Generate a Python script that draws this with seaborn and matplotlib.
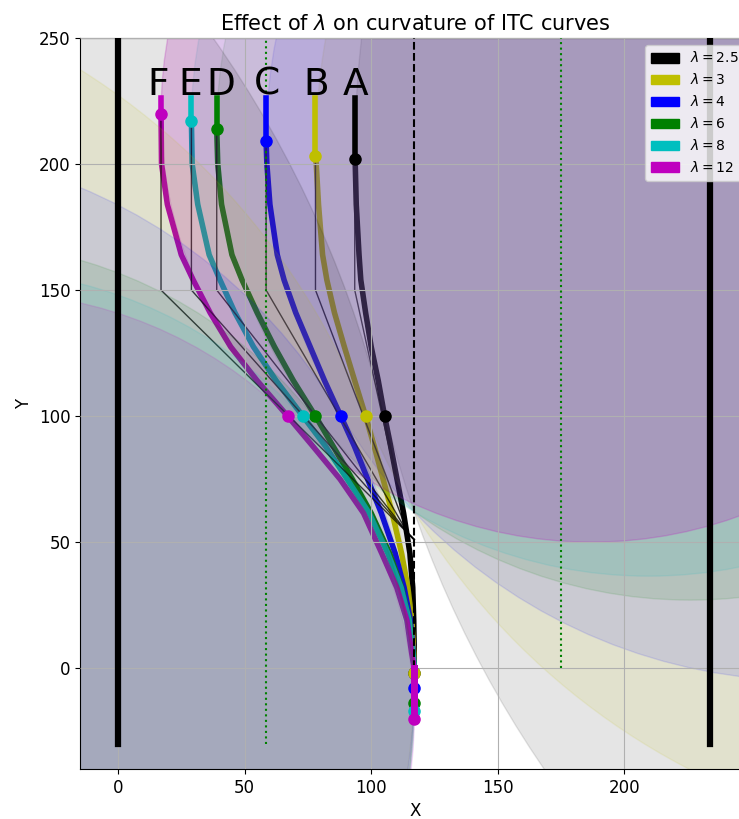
import numpy as np
import pandas as pd
import seaborn as sns
import matplotlib.pyplot as plt
from matplotlib.patches import Circle, Patch

# lambda values, colours and curve names
lambdas = [2.5, 3, 4, 6, 8, 12]
colors = ['k', 'y', 'b', 'g', 'c', 'm']
names = ['A', 'B', 'C', 'D', 'E', 'F']

# top start point of each ITC curve
top_x = [93.5, 78, 58.5, 39, 29, 17]
top_y = [202, 203, 209, 214, 217, 220]
# marker on each curve at y = 100
mid_x = [105.3, 97.8, 88, 78, 73, 67]
mid_y = 100
# end markers at x = 117
x_end = 117
bot_y = [-2, -2, -8, -14, -17, -20]

# curve points (x at the y levels in curve_y)
curve_y = [200, 184, 164, 154, 141, 127.5, 114, 100, 88, 75, 61.5, 45.5, 32, 19, 6, 0]
curve_A = [93.7, 94.1, 95.2, 95.9, 97.8, 100.0, 102.8, 105.3, 107.7, 110.2, 112.8, 115.3, 116.4, 116.8, 117, 117]
curve_B = [78.3, 79.2, 80.8, 82.5, 85.5, 89.4, 93.5, 97.8, 101.2, 104.7, 108.3, 112.0, 114.5, 116.0, 116.8, 117]
curve_C = [58.8, 60.0, 62.9, 65.6, 70.2, 75.9, 81.6, 88.0, 93.4, 98.6, 104.0, 109.5, 113.0, 115.5, 116.6, 117]
curve_D = [39.4, 40.9, 45.0, 49.0, 55.0, 61.8, 69.3, 78.0, 85.0, 92.5, 100.0, 107.3, 112.0, 115.0, 116.5, 117]
curve_E = [29.3, 31.5, 36.0, 40.3, 46.2, 53.5, 62.5, 73.0, 82.0, 90.5, 99.2, 106.6, 111.8, 115.0, 116.4, 117]
curve_F = [17.2, 19.5, 25.0, 29.7, 36.4, 44.5, 55.0, 67.0, 77.0, 87.7, 97.0, 104.2, 110.1, 114.1, 116.0, 117]
curves = [curve_A, curve_B, curve_C, curve_D, curve_E, curve_F]

# radii of the shaded circles (upper: touches top point, lower: touches end marker)
upper_r = [429, 274, 214, 187, 180.5, 170]
lower_r = [439.5, 283.3, 215.6, 183.2, 174.9, 169]
upper_alpha = [0.1, 0.1, 0.1, 0.1, 0.1, 0.2]
lower_alpha = [0.1, 0.1, 0.1, 0.1, 0.1, 0.12]

# knee of the thin guide lines
knee_y = 150
meet_pt = (114.5, 53.5)
meet_end = (117, 51)

rows = []
for i, lam in enumerate(lambdas):
    rows.append((top_x[i], top_y[i], names[i]))
    for xv, yv in zip(curves[i], curve_y):
        rows.append((xv, yv, names[i]))
df = pd.DataFrame(rows, columns=['x', 'y', 'curve'])

fig = plt.figure(figsize=(7.39, 8.19), dpi=100)
ax = fig.add_axes([80 / 739, 50 / 819, 671 / 739, 731 / 819])

sns.lineplot(data=df, x='x', y='y', hue='curve', hue_order=names,
             palette=colors, sort=False, estimator=None, linewidth=4,
             legend=False, ax=ax, zorder=2)

for i in range(len(lambdas)):
    ax.plot([top_x[i], top_x[i], meet_pt[0], meet_end[0]],
            [top_y[i], knee_y, meet_pt[1], meet_end[1]],
            color='k', lw=1, alpha=0.8, zorder=2.1)

for i in range(len(lambdas)):
    r = upper_r[i]
    ax.add_patch(Circle((top_x[i] + r, top_y[i]), r, color=colors[i],
                        alpha=upper_alpha[i], zorder=2.2))
for i in range(len(lambdas)):
    r = lower_r[i]
    ax.add_patch(Circle((x_end - r, bot_y[i]), r, color=colors[i],
                        alpha=lower_alpha[i], zorder=2.2))

ax.set_axisbelow(False)
ax.grid(True, zorder=2.5)

# guide lines
ax.plot([0, 0], [-30, 250], color='k', lw=4.5, zorder=4)
ax.plot([234, 234], [-30, 250], color='k', lw=4.5, zorder=4)
ax.plot([x_end, x_end], [0, 250], 'k--', lw=1.5, zorder=4)
ax.plot([58.5, 58.5], [-30, 250], color='g', ls=':', lw=1.5, zorder=4)
ax.plot([175, 175], [0, 250], color='g', ls=':', lw=1.5, zorder=4)

label_x = [93.7, 78.3, 58.9, 40.7, 28.5, 15.8]
for i in range(len(lambdas)):
    ax.plot([top_x[i], top_x[i]], [top_y[i], 226], color=colors[i], lw=4, zorder=5)
    ax.plot(top_x[i], top_y[i], 'o', color=colors[i], ms=8, zorder=5)
    ax.plot(mid_x[i], mid_y, 'o', color=colors[i], ms=8, zorder=5)
    ax.text(label_x[i], 227.5, names[i], fontsize=27, ha='center', va='baseline', zorder=6)

for i in range(len(lambdas)):
    ax.plot([x_end, x_end], [0, bot_y[i]], color=colors[i], lw=5, zorder=5)
    ax.plot(x_end, bot_y[i], 'o', color=colors[i], ms=8, zorder=5)

handles = [Patch(color=c, label=r'$\lambda=%g$' % l) for c, l in zip(colors, lambdas)]
ax.legend(handles=handles, loc='upper right', fontsize=10)

ax.set_xlim(-15, 250)
ax.set_ylim(-40, 250)
ax.set_xticks([0, 50, 100, 150, 200])
ax.set_yticks([0, 50, 100, 150, 200, 250])
ax.tick_params(labelsize=12)
ax.set_xlabel('X', fontsize=12)
ax.set_ylabel('Y', fontsize=12)
ax.set_title(r'Effect of $\lambda$ on curvature of ITC curves', fontsize=15)

fig.savefig('out.png', dpi=100)
